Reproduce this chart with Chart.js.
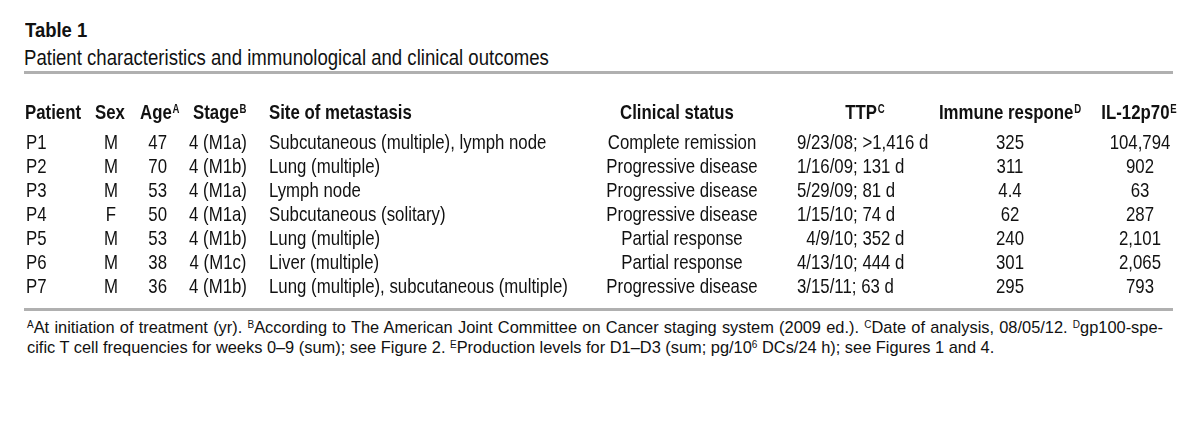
<!DOCTYPE html>
<html>
<head>
<meta charset="utf-8">
<script src="https://cdn.jsdelivr.net/npm/chart.js@4.4.0/dist/chart.umd.min.js"></script>
<style>
  html, body { margin: 0; padding: 0; background: #fff; }
  body { width: 1200px; height: 421px; position: relative; overflow: hidden; color: #111; }
  #title { position: absolute; left: 25px; top: 18px; line-height: 1; font: bold 21px "Liberation Sans", Arial, sans-serif;
           transform: scaleX(0.88); transform-origin: left top; white-space: nowrap; }
  #subtitle { position: absolute; left: 24px; top: 45px; line-height: 1; font: 22px "Liberation Sans", Arial, sans-serif;
              transform: scaleX(0.845); transform-origin: left top; white-space: nowrap; }
  .rule { position: absolute; left: 24px; width: 1149px; height: 3px; background: #b0b0b0; }
  .foot { position: absolute; left: 27px; width: 1136px; font: 16.4px "Liberation Sans", Arial, sans-serif; line-height: 20px; white-space: nowrap; }
  .foot sup { font-size: 10px; vertical-align: 5px; line-height: 0; }
  #foot1 { top: 317px; text-align: justify; text-align-last: justify; }
  #foot2 { top: 337px; }
  #tableChart { position: absolute; left: 0; top: 90px; }
</style>
</head>
<body>
<div id="title">Table 1</div>
<div id="subtitle">Patient characteristics and immunological and clinical outcomes</div>
<div class="rule" style="top:71px"></div>
<canvas id="tableChart" width="1200" height="210"></canvas>
<div class="rule" style="top:308px"></div>
<div class="foot" id="foot1"><sup>A</sup>At initiation of treatment (yr). <sup>B</sup>According to The American Joint Committee on Cancer staging system (2009 ed.). <sup>C</sup>Date of analysis, 08/05/12. <sup>D</sup>gp100-spe-</div>
<div class="foot" id="foot2">cific T cell frequencies for weeks 0–9 (sum); see Figure 2. <sup>E</sup>Production levels for D1–D3 (sum; pg/10<sup>6</sup> DCs/24 h); see Figures 1 and 4.</div>

<script>
document.addEventListener('DOMContentLoaded', () => {
  // table data
  const headers = ['Patient', 'Sex', 'Age', 'Stage', 'Site of metastasis', 'Clinical status', 'TTP', 'Immune respone', 'IL-12p70'];
  const headerNotes = ['', '', 'A', 'B', '', '', 'C', 'D', 'E'];
  const patients = ['P1', 'P2', 'P3', 'P4', 'P5', 'P6', 'P7'];
  const sex = ['M', 'M', 'M', 'F', 'M', 'M', 'M'];
  const age = [47, 70, 53, 50, 53, 38, 36];
  const stage = ['4 (M1a)', '4 (M1b)', '4 (M1a)', '4 (M1a)', '4 (M1b)', '4 (M1c)', '4 (M1b)'];
  const sites = [
    'Subcutaneous (multiple), lymph node',
    'Lung (multiple)',
    'Lymph node',
    'Subcutaneous (solitary)',
    'Lung (multiple)',
    'Liver (multiple)',
    'Lung (multiple), subcutaneous (multiple)'
  ];
  const clinicalStatus = [
    'Complete remission', 'Progressive disease', 'Progressive disease', 'Progressive disease',
    'Partial response', 'Partial response', 'Progressive disease'
  ];
  const ttp = ['9/23/08; >1,416 d', '1/16/09; 131 d', '5/29/09; 81 d', '1/15/10; 74 d', '\u20074/9/10; 352 d', '4/13/10; 444 d', '3/15/11; 63 d'];
  const immuneResponse = [325, 311, 4.4, 62, 240, 301, 295];
  const il12p70 = [104794, 902, 63, 287, 2101, 2065, 793];

  const columns = [patients, sex, age, stage, sites, clinicalStatus, ttp, immuneResponse, il12p70];

  // column layout: x anchor and alignment for header and body cells
  const colLayout = [
    { hx: 25, ha: 'left', x: 26, a: 'left' },
    { hx: 110, ha: 'center', x: 111, a: 'center' },
    { hx: 140, ha: 'left', x: 167, a: 'right' },
    { hx: 193, ha: 'left', x: 218, a: 'center' },
    { hx: 269, ha: 'left', x: 269, a: 'left' },
    { hx: 677, ha: 'center', x: 682, a: 'center' },
    { hx: 865, ha: 'center', x: 797, a: 'left' },
    { hx: 1010, ha: 'center', x: 1010, a: 'center' },
    { hx: 1139, ha: 'center', x: 1140, a: 'center' }
  ];
  const rowStep = 24;
  const headerRow = 1 - 30 / rowStep;

  const fmt = (v) => typeof v === 'number' ? v.toLocaleString('en-US') : v;

  const tableText = {
    id: 'tableText',
    afterDatasetsDraw(chart) {
      const { ctx, scales: { x, y } } = chart;
      const family = '"Liberation Sans", Arial, sans-serif';
      const bodyFont = '21px ' + family;
      const headFont = 'bold 21px ' + family;
      const supFont = 'bold 12px ' + family;
      const sx = 0.8, hsx = 0.8;
      const capHalf = 7.5;

      ctx.save();
      ctx.fillStyle = '#111';
      ctx.textBaseline = 'alphabetic';

      // header row (condensed by horizontal scaling)
      ctx.save();
      ctx.scale(hsx, 1);
      const hy = y.getPixelForValue(headerRow) + capHalf;
      headers.forEach((h, c) => {
        const lay = colLayout[c];
        ctx.font = headFont;
        const w = ctx.measureText(h).width;
        ctx.font = supFont;
        const sw = headerNotes[c] ? ctx.measureText(headerNotes[c]).width + 1 : 0;
        let left = x.getPixelForValue(lay.hx) / hsx;
        if (lay.ha === 'center') left -= (w + sw) / 2;
        ctx.textAlign = 'left';
        ctx.font = headFont;
        ctx.fillText(h, left, hy);
        if (headerNotes[c]) {
          ctx.font = supFont;
          ctx.fillText(headerNotes[c], left + w + 1, hy - 6);
        }
      });
      ctx.restore();

      // body rows
      ctx.save();
      ctx.scale(sx, 1);
      ctx.font = bodyFont;
      columns.forEach((col, c) => {
        const lay = colLayout[c];
        ctx.textAlign = lay.a;
        col.forEach((v, r) => {
          ctx.fillText(fmt(v), x.getPixelForValue(lay.x) / sx, y.getPixelForValue(r + 1) + capHalf);
        });
      });
      ctx.restore();
      ctx.restore();
    }
  };

  new Chart(document.getElementById('tableChart'), {
    type: 'scatter',
    data: {
      datasets: [{
        label: 'rows',
        data: patients.map((p, i) => ({ x: colLayout[0].x, y: i + 1 })),
        pointRadius: 0
      }]
    },
    options: {
      responsive: false,
      animation: false,
      devicePixelRatio: 1,
      layout: { padding: 0 },
      plugins: { legend: { display: false }, tooltip: { enabled: false } },
      scales: {
        x: { type: 'linear', min: 0, max: 1200, display: false },
        y: { type: 'linear', min: 1 - 51 / rowStep, max: 7 + 15 / rowStep, reverse: true, display: false }
      }
    },
    plugins: [tableText]
  });
});
</script>
</body>
</html>
